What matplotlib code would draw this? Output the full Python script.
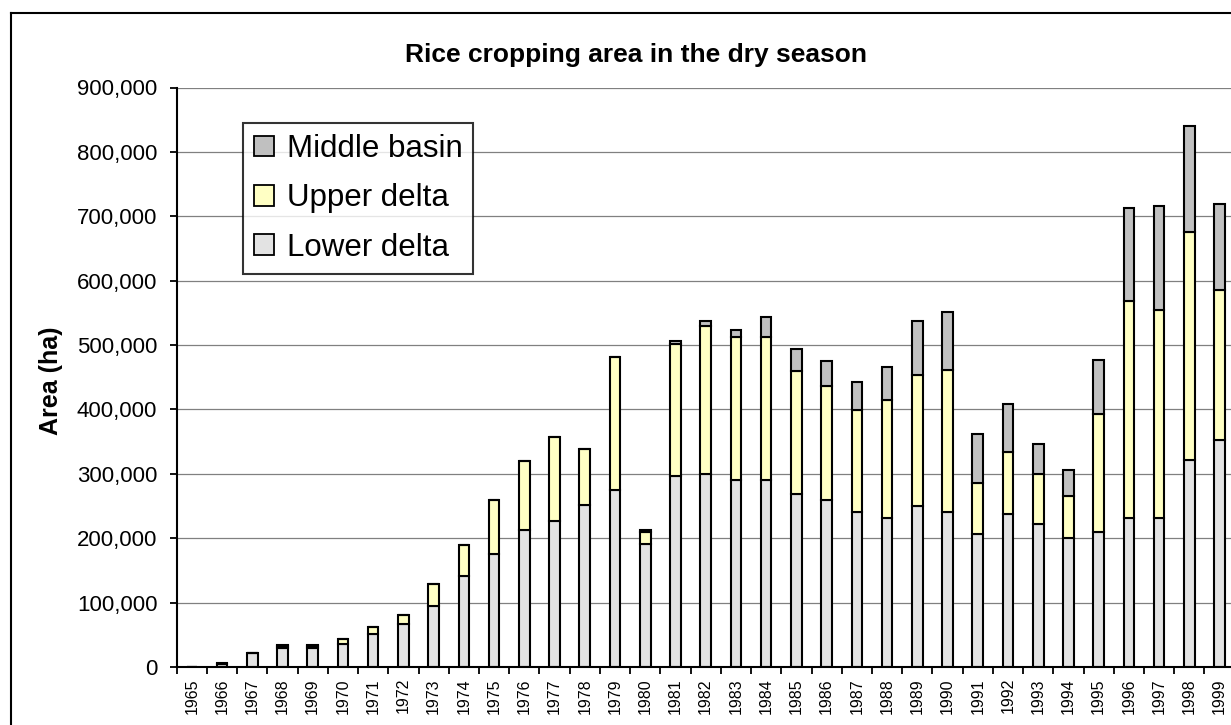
import numpy as np
import matplotlib
matplotlib.use("Agg")
import matplotlib.pyplot as plt
from matplotlib.lines import Line2D
from matplotlib.patches import Patch
from matplotlib.ticker import StrMethodFormatter

plt.rcParams['font.family'] = ['Liberation Sans', 'DejaVu Sans']

# data (ha)
years = list(range(1965, 2000))
lower = [0, 5000, 21000, 29000, 29000, 36000, 52000, 67000, 95000, 142000,
         176000, 213000, 226000, 251000, 275000, 191000, 296000, 300000, 290000, 290000,
         269000, 259000, 241000, 231000, 250000, 241000, 207000, 238000, 222000, 200000,
         210000, 231000, 231000, 321000, 353000]
upper = [0, 0, 0, 3000, 3000, 7000, 10000, 13000, 34000, 47000,
         84000, 107000, 131000, 87000, 207000, 18000, 205000, 229000, 223000, 223000,
         191000, 177000, 158000, 183000, 204000, 220000, 78000, 96000, 78000, 65000,
         183000, 338000, 323000, 355000, 232000]
middle = [0, 1000, 0, 1500, 1500, 0, 0, 0, 0, 0,
          0, 0, 0, 0, 0, 4000, 6000, 9000, 10000, 31000,
          34000, 40000, 43000, 52000, 84000, 90000, 77000, 74000, 47000, 41000,
          84000, 144000, 162000, 164000, 134000]

series_names = ['Lower delta', 'Upper delta', 'Middle basin']
colors = ['#E3E3E3', '#FFFFC4', '#C0C0C0']

fig = plt.figure(figsize=(12.31, 7.25), dpi=100)
# plot area runs a little past the right edge, as in the original
ax = fig.add_axes([176.7 / 1231, 58 / 725, 1058 / 1231, 579.5 / 725])

x = np.arange(len(years))
lo = np.array(lower)
up = np.array(upper)
mid = np.array(middle)
w = 0.35
lw = 1.5
ax.bar(x, lo, w, color=colors[0], edgecolor='black', linewidth=lw)
ax.bar(x, up, w, bottom=lo, color=colors[1], edgecolor='black', linewidth=lw)
ax.bar(x, mid, w, bottom=lo + up, color=colors[2], edgecolor='black', linewidth=lw)

ax.set_xlim(-0.5, len(years) - 0.5)
ax.set_ylim(0, 900000)
ax.set_yticks(np.arange(0, 900001, 100000))
ax.yaxis.set_major_formatter(StrMethodFormatter('{x:,.0f}'))
ax.tick_params(axis='y', labelsize=16, length=5, width=1.3, pad=9, direction='out')
ax.yaxis.grid(True, color='#808080', linewidth=0.9)
ax.set_axisbelow(True)

ax.set_xticks(np.arange(-0.5, len(years), 1))
ax.set_xticklabels([])
ax.set_xticks(x, minor=True)
ax.set_xticklabels([str(y) for y in years], minor=True, rotation=90, fontsize=11.5)
ax.tick_params(axis='x', which='major', length=5, width=1.3, direction='out')
ax.tick_params(axis='x', which='minor', length=0, pad=8)

for s in ['top', 'right']:
    ax.spines[s].set_visible(False)
for s in ['left', 'bottom']:
    ax.spines[s].set_linewidth(1.5)

fig.text(636 / 1231, 1 - 55 / 725, 'Rice cropping area in the dry season',
         fontsize=19, fontweight='bold', ha='center', va='center')
fig.text(51 / 1231, 1 - 381 / 725, 'Area (ha)', fontsize=18, fontweight='bold',
         rotation=90, ha='center', va='center')

handles = [Patch(facecolor=colors[i], edgecolor='black', linewidth=1.3) for i in [2, 1, 0]]
labels = [series_names[i] for i in [2, 1, 0]]
leg = ax.legend(handles, labels, loc='upper left', bbox_to_anchor=(243 / 1231, 1 - 123 / 725),
                bbox_transform=fig.transFigure, fontsize=22.5, frameon=True, fancybox=False,
                edgecolor='black', handlelength=0.65, handleheight=0.65,
                handletextpad=0.4, labelspacing=0.62, borderpad=0.35, borderaxespad=0)
leg.get_frame().set_linewidth(1.5)

# chart border (right and bottom edges fall outside the image)
fig.add_artist(Line2D([11 / 1231, 11 / 1231], [1 - 13 / 725, -0.01], color='black',
                      linewidth=1.5, transform=fig.transFigure))
fig.add_artist(Line2D([11 / 1231, 1.01], [1 - 13 / 725, 1 - 13 / 725], color='black',
                      linewidth=1.5, transform=fig.transFigure))

fig.savefig('out.png', dpi=100)
